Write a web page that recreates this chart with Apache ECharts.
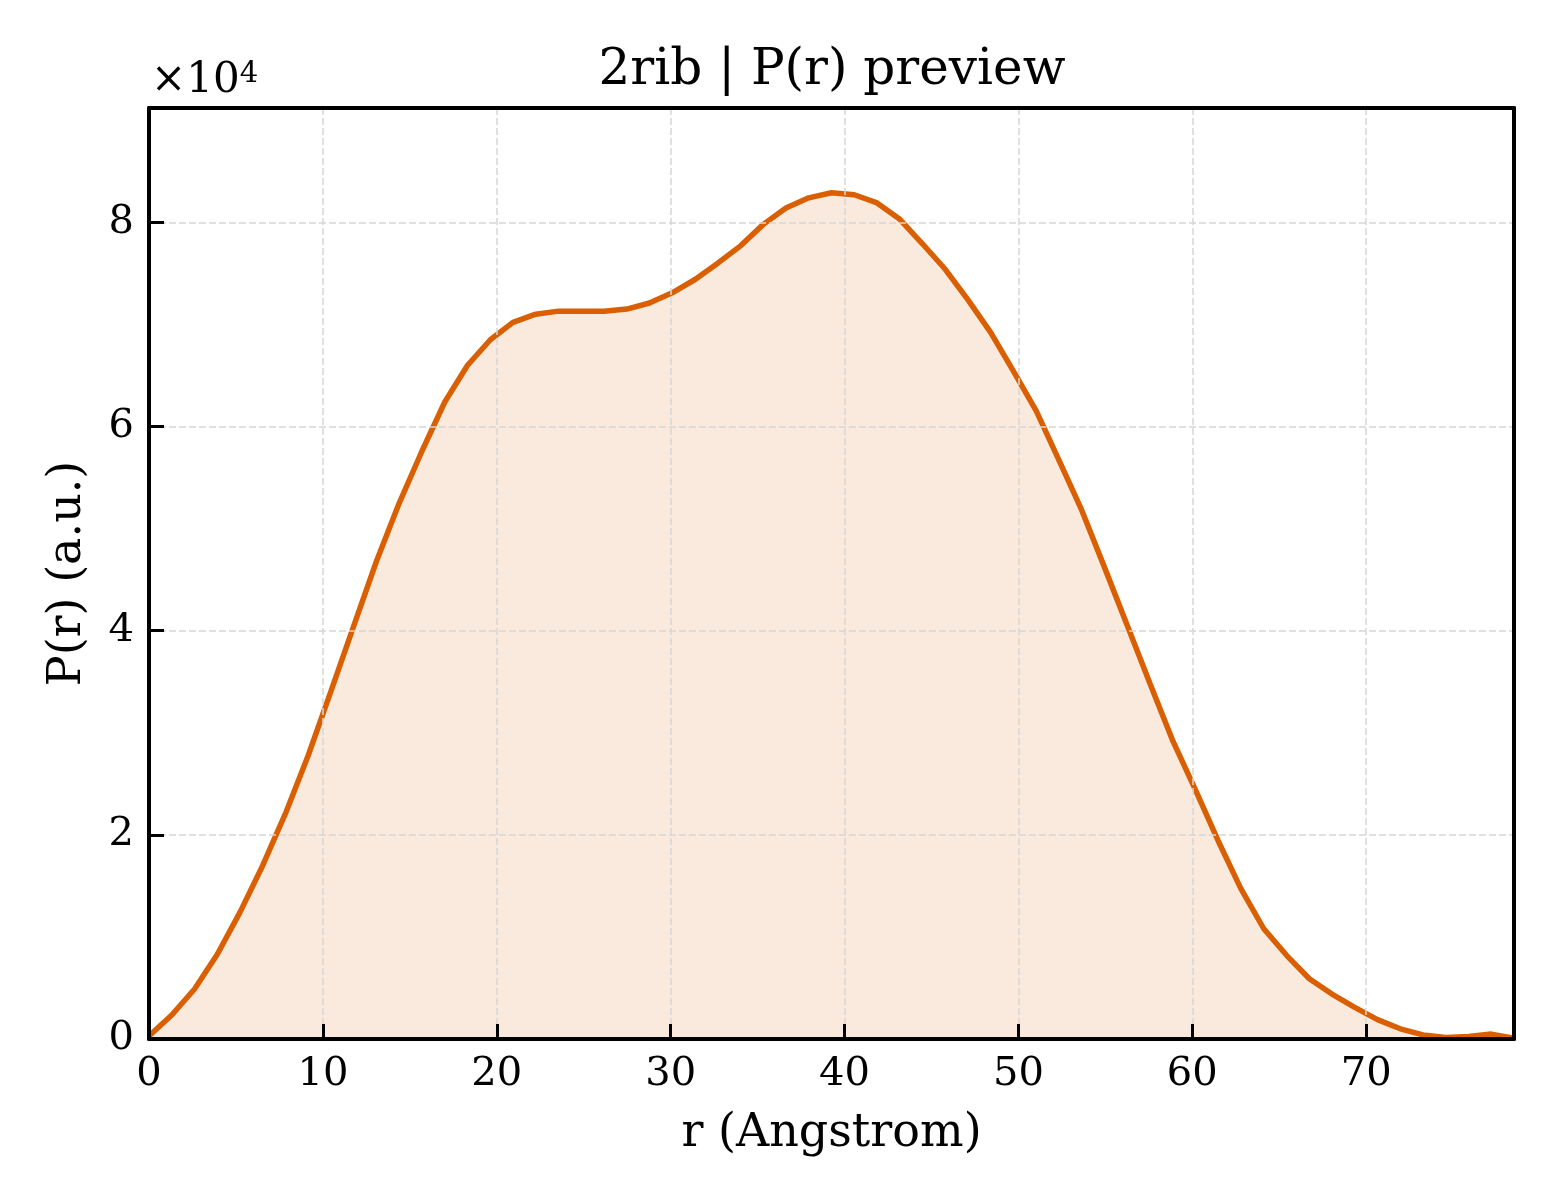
<!DOCTYPE html>
<html>
<head>
<meta charset="utf-8">
<script src="https://cdn.jsdelivr.net/npm/echarts@6/dist/echarts.min.js"></script>
<style>
  html, body { margin: 0; padding: 0; background: #fff; }
  #chart { width: 1560px; height: 1200px; }
</style>
</head>
<body>
<div id="chart"></div>
<script>
const rValues = [
  0, 1.31, 2.62, 3.93, 5.23, 6.54, 7.85, 9.16, 10.47, 11.78,
  13.08, 14.39, 15.70, 17.01, 18.32, 19.63, 20.93, 22.24, 23.55, 24.86,
  26.17, 27.48, 28.78, 30.09, 31.40, 32.71, 34.02, 35.33, 36.63, 37.94,
  39.25, 40.56, 41.87, 43.18, 44.48, 45.79, 47.10, 48.41, 49.72, 51.03,
  52.33, 53.64, 54.95, 56.26, 57.57, 58.88, 60.18, 61.49, 62.80, 64.11,
  65.42, 66.73, 68.03, 69.34, 70.65, 71.96, 73.27, 74.58, 75.88, 77.19,
  78.50
];
const prValues = [
  300, 2350, 4900, 8300, 12400, 17000, 22100, 27800, 34100, 40500,
  46800, 52500, 57600, 62400, 66000, 68500, 70200, 71000, 71300, 71300,
  71300, 71500, 72100, 73100, 74400, 76000, 77700, 79800, 81400, 82400,
  82900, 82700, 81900, 80300, 77900, 75400, 72400, 69200, 65400, 61500,
  56700, 51800, 46200, 40500, 34800, 29200, 24400, 19400, 14700, 10800,
  8200, 5900, 4400, 3100, 1900, 1000, 400, 150, 250, 480,
  80
];
const xTicks = [0, 10, 20, 30, 40, 50, 60, 70];
const yTicks = [0, 20000, 40000, 60000, 80000];

const FONT = 'DejaVu Serif';
const LINE = '#d95f02';

const chart = echarts.init(document.getElementById('chart'));

const gridLine = { show: true, lineStyle: { color: '#d6d6d6', width: 1.5, type: [7, 3] } };
// plain frame for the top and right spines
const frame = {
  type: 'value',
  axisLine: { show: true, onZero: false, lineStyle: { color: '#000', width: 4 } },
  axisTick: { show: false }, axisLabel: { show: false }, splitLine: { show: false }, z: 5
};

const option = {
  backgroundColor: '#ffffff',
  animation: false,
  title: {
    text: '2rib | P(r) preview',
    left: 827, top: 41, textAlign: 'center',
    textStyle: { fontFamily: FONT, fontSize: 50, fontWeight: 'normal', color: '#000' }
  },
  grid: { left: 149, right: 46, top: 108, bottom: 161 },
  graphic: [{
    type: 'text', left: 151, top: 60, z: 10,
    style: {
      text: '{a|×10}{b|4}',
      rich: {
        a: { fontFamily: FONT, fontSize: 42, fill: '#000' },
        b: { fontFamily: FONT, fontSize: 29, fill: '#000', verticalAlign: 'top', padding: [0, 0, 14, 0] }
      }
    }
  }],
  xAxis: [{
    type: 'value', min: 0, max: 78.5, interval: 10,
    name: 'r (Angstrom)', nameLocation: 'middle', nameGap: 72,
    nameTextStyle: { fontFamily: FONT, fontSize: 46, color: '#000' },
    axisLine: { show: true, onZero: false, lineStyle: { color: '#000', width: 4 } },
    axisTick: { show: true, inside: true, length: 15, lineStyle: { color: '#000', width: 3 } },
    axisLabel: {
      fontFamily: FONT, fontSize: 40, color: '#000', margin: 16, showMaxLabel: false,
      formatter: v => xTicks.includes(v) ? String(v) : ''
    },
    splitLine: gridLine, z: 5
  }, Object.assign({ position: 'top', min: 0, max: 78.5 }, frame)],
  yAxis: [{
    type: 'value', min: 0, max: 91200, interval: 20000,
    name: 'P(r) (a.u.)', nameLocation: 'middle', nameGap: 58, nameRotate: 90,
    nameTextStyle: { fontFamily: FONT, fontSize: 46, color: '#000' },
    axisLine: { show: true, onZero: false, lineStyle: { color: '#000', width: 4 } },
    axisTick: { show: true, inside: true, length: 15, lineStyle: { color: '#000', width: 3 } },
    axisLabel: {
      fontFamily: FONT, fontSize: 40, color: '#000', margin: 15, showMaxLabel: false,
      formatter: v => yTicks.includes(v) ? String(v / 10000) : ''
    },
    splitLine: gridLine, z: 5
  }, Object.assign({ position: 'right', min: 0, max: 91200 }, frame)],
  series: [{
    type: 'line',
    xAxisIndex: 0, yAxisIndex: 0,
    data: rValues.map((r, i) => [r, prValues[i]]),
    symbol: 'none',
    lineStyle: { color: LINE, width: 5.5 },
    areaStyle: { color: LINE, opacity: 0.13 },
    z: 3
  }]
};

chart.setOption(option);
</script>
</body>
</html>
